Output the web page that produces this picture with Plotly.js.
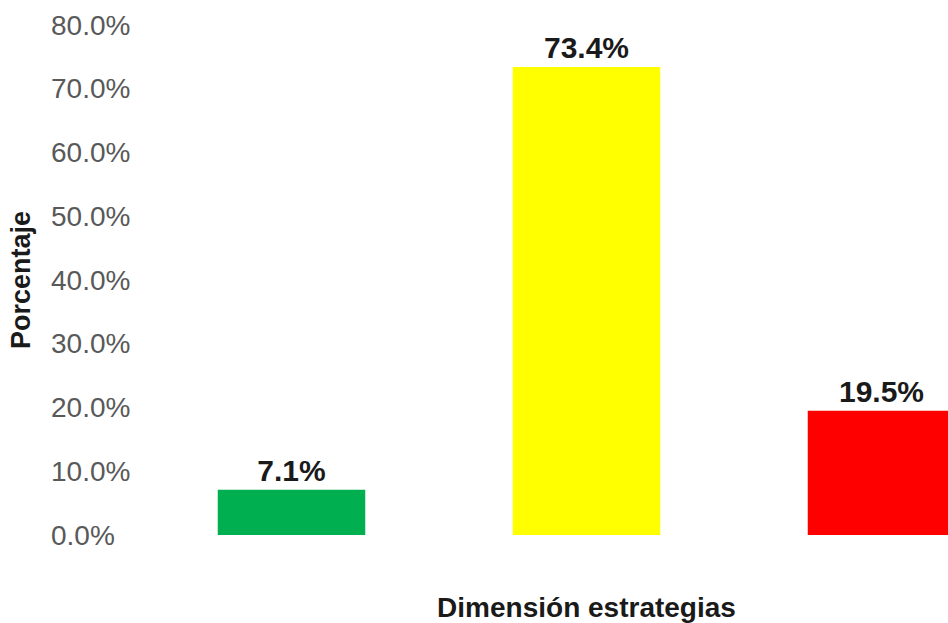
<!DOCTYPE html>
<html>
<head>
<meta charset="utf-8">
<script src="https://cdn.plot.ly/plotly-3.0.1.min.js"></script>
<style>
html,body{margin:0;padding:0;overflow:hidden;background:#fff;width:948px;height:623px;}
#chart{width:1029px;height:623px;}
</style>
</head>
<body>
<div id="chart"></div>
<script>
const categories = ["Bueno", "Regular", "Deficiente"];
const values = [7.1, 73.4, 19.5];
const barColors = ["#00B050", "#FFFF00", "#FF0000"];
const yTickValues = [0, 10, 20, 30, 40, 50, 60, 70, 80];
const yTickLabels = ["0.0%", "10.0%", "20.0%", "30.0%", "40.0%", "50.0%", "60.0%", "70.0%", "80.0%"];

const FONT = "Liberation Sans, Arial, sans-serif";

const trace = {
  type: "bar",
  x: categories,
  y: values,
  marker: {color: barColors},
  text: values.map(v => v.toFixed(1) + "%"),
  textposition: "outside",
  textfont: {family: FONT, size: 30, color: "#1a1a1a", weight: "bold"},
  cliponaxis: false,
  hoverinfo: "none"
};

// left-aligned y tick labels, positioned through the y axis scale
const tickAnnotations = yTickValues.map((v, i) => ({
  xref: "paper", yref: "y",
  x: 0, y: v,
  xanchor: "left", yanchor: "middle",
  xshift: -95,
  text: yTickLabels[i],
  showarrow: false,
  font: {family: FONT, size: 28, color: "#595959"}
}));

const layout = {
  width: 1029,
  height: 623,
  margin: {l: 144, r: 0, t: 25, b: 88},
  paper_bgcolor: "#fff",
  plot_bgcolor: "#fff",
  showlegend: false,
  bargap: 0.5,
  font: {family: FONT},
  annotations: tickAnnotations,
  xaxis: {
    type: "category",
    range: [-0.5, 2.5],
    showticklabels: false,
    showgrid: false,
    zeroline: false,
    showline: false,
    ticks: "",
    title: {text: "<b>Dimensión estrategias</b>", font: {size: 28, color: "#1a1a1a"}, standoff: 65}
  },
  yaxis: {
    range: [0, 80],
    tickvals: yTickValues,
    showticklabels: false,
    showgrid: false,
    zeroline: false,
    showline: false,
    ticks: "",
    title: {text: "<b>Porcentaje</b>", font: {size: 27, color: "#1a1a1a"}, standoff: 104}
  }
};

Plotly.newPlot("chart", [trace], layout, {staticPlot: true, displayModeBar: false});
</script>
</body>
</html>
